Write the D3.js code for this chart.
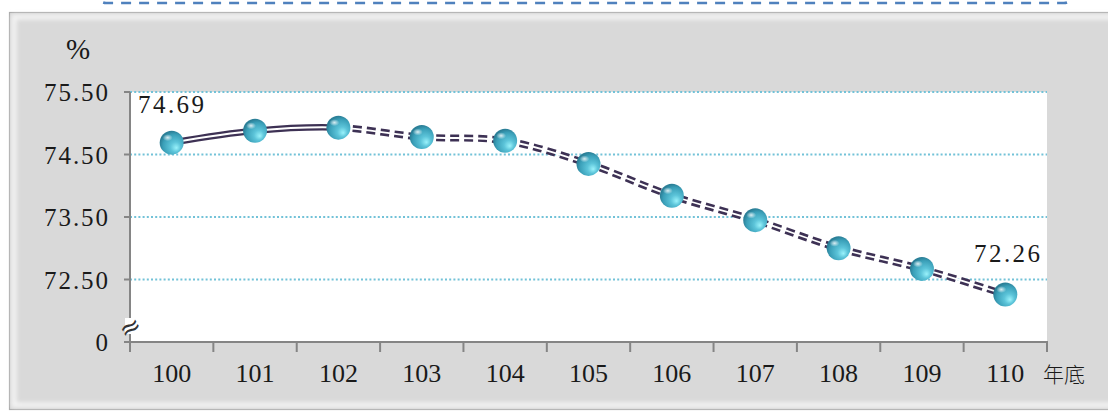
<!DOCTYPE html>
<html><head><meta charset="utf-8">
<script src="https://cdn.jsdelivr.net/npm/d3@7"></script>
<style>
html,body{margin:0;padding:0;background:#fff;overflow:hidden}
</style></head>
<body>
<script>
const years = ["100","101","102","103","104","105","106","107","108","109","110"];
const values = [74.69, 74.88, 74.93, 74.78, 74.72, 74.35, 73.84, 73.45, 73.00, 72.67, 72.26];
const yTicks = [72.5, 73.5, 74.5, 75.5];
const yTickLabels = ["72.50", "73.50", "74.50", "75.50"];
const yBaseLabel = "0";
const unitLabel = "%";
const xUnitLabel = "年底";
const solidUntil = "102";
const labelled = [{year:"100", text:"74.69"}, {year:"110", text:"72.26"}];

const SERIF = "'Liberation Serif', 'Times New Roman', Tinos, 'DejaVu Serif', serif";
const W = 1108, H = 412;
const svg = d3.select("body").append("svg").attr("width", W).attr("height", H);
const defs = svg.append("defs");

// top dashed box (partially visible)
svg.append("rect").attr("x", 97).attr("y", -40).attr("width", 976).attr("height", 43)
  .attr("rx", 9).attr("fill", "#fff").attr("stroke", "#4f81bd").attr("stroke-width", 2.5)
  .attr("stroke-dasharray", "10,8");

// gray panel with bevel
const blur = defs.append("filter").attr("id", "blur").attr("x", "-5%").attr("y", "-5%").attr("width", "110%").attr("height", "110%");
blur.append("feGaussianBlur").attr("stdDeviation", 2.2);
svg.append("rect").attr("x", 9.5).attr("y", 12.5).attr("width", 1110).attr("height", 397)
  .attr("fill", "#d9d9d9").attr("stroke", "#a8a8a8").attr("stroke-width", 1.2);
svg.append("rect").attr("x", 14).attr("y", 17).attr("width", 1110).attr("height", 388)
  .attr("fill", "none").attr("stroke", "#f4f4f4").attr("stroke-width", 5).attr("filter", "url(#blur)");

const m = {left:130, right:1047, top:92, bottom:342};
const x = d3.scaleBand().domain(years).range([m.left, m.right]).padding(0);
const y = d3.scaleLinear().domain([71.5, 75.5]).range([m.bottom, m.top]);

// plot area
svg.append("rect").attr("x", m.left).attr("y", m.top).attr("width", m.right - m.left).attr("height", m.bottom - m.top).attr("fill", "#fff");

// gridlines
svg.append("g").selectAll("line").data(yTicks).join("line")
  .attr("x1", m.left).attr("x2", m.right).attr("y1", d => y(d)).attr("y2", d => y(d))
  .attr("stroke", "#72c2d8").attr("stroke-width", 2).attr("stroke-dasharray", "2,2.2");

function txt(sel) { return sel.style("font-family", SERIF).style("fill", "#1a1a1a"); }

// y axis
const yAxis = svg.append("g");
yAxis.append("line").attr("x1", m.left).attr("x2", m.left).attr("y1", m.top).attr("y2", m.bottom + 1)
  .attr("stroke", "#858585").attr("stroke-width", 2);
yAxis.selectAll("line.t").data(yTicks.concat([71.5])).join("line").attr("class", "t")
  .attr("x1", m.left - 6).attr("x2", m.left).attr("y1", d => y(d)).attr("y2", d => y(d))
  .attr("stroke", "#858585").attr("stroke-width", 2);
txt(yAxis.selectAll("text.l").data(yTicks).join("text").attr("class", "l")
  .attr("x", 108).attr("y", d => y(d) + 9).attr("text-anchor", "end")
  .attr("font-size", 25).attr("textLength", 64).attr("lengthAdjust", "spacing")
  .text((d, i) => yTickLabels[i]));
txt(yAxis.append("text").attr("x", 108).attr("y", y(71.5) + 9).attr("text-anchor", "end")
  .attr("font-size", 25).text(yBaseLabel));
txt(svg.append("text").attr("x", 78).attr("y", 59).attr("text-anchor", "middle").attr("font-size", 29).text(unitLabel));

// break symbol
svg.append("rect").attr("x", 125).attr("y", 318).attr("width", 10).attr("height", 16).attr("fill", "#fff");
svg.append("text").attr("x", 130).attr("y", 336).attr("text-anchor", "middle").attr("font-size", 26)
  .attr("transform", "rotate(-30,130,327)").style("font-family", "DejaVu Sans").style("fill", "#333").text("≈");

// x axis
const xAxis = svg.append("g");
xAxis.append("line").attr("x1", m.left - 1).attr("x2", m.right + 1).attr("y1", m.bottom).attr("y2", m.bottom)
  .attr("stroke", "#858585").attr("stroke-width", 2);
const bounds = years.map(d => x(d)).concat([m.right]);
xAxis.selectAll("line.t").data(bounds).join("line").attr("class", "t")
  .attr("x1", d => d).attr("x2", d => d).attr("y1", m.bottom).attr("y2", m.bottom + 10)
  .attr("stroke", "#858585").attr("stroke-width", 2);
txt(xAxis.selectAll("text.l").data(years).join("text").attr("class", "l")
  .attr("x", d => x(d) + x.bandwidth() / 2).attr("y", 382).attr("text-anchor", "middle")
  .attr("font-size", 26).text(d => d));
svg.append("text").attr("x", 1043).attr("y", 382).attr("font-size", 21)
  .style("font-family", "'Noto Sans CJK TC','Noto Sans CJK SC',serif").style("font-weight", 300).style("fill", "#1a1a1a").text(xUnitLabel);

// line
const pts = years.map((d, i) => [x(d) + x.bandwidth() / 2, y(values[i])]);
const line = d3.line().curve(d3.curveCatmullRom.alpha(0.5));
const splitX = x(solidUntil) + x.bandwidth() / 2;
defs.append("clipPath").attr("id", "cs").append("rect").attr("x", 0).attr("y", 0).attr("width", splitX).attr("height", H);
defs.append("clipPath").attr("id", "cd").append("rect").attr("x", splitX).attr("y", 0).attr("width", W).attr("height", H);
const lg = svg.append("g");
const solid = lg.append("g").attr("clip-path", "url(#cs)");
solid.append("path").attr("d", line(pts)).attr("fill", "none").attr("stroke", "#3d3154").attr("stroke-width", 6.5);
solid.append("path").attr("d", line(pts)).attr("fill", "none").attr("stroke", "#fff").attr("stroke-width", 2);
const dashed = lg.append("g").attr("clip-path", "url(#cd)");
dashed.append("path").attr("d", line(pts)).attr("fill", "none").attr("stroke", "#3d3154").attr("stroke-width", 7).attr("stroke-dasharray", "9,5");
dashed.append("path").attr("d", line(pts)).attr("fill", "none").attr("stroke", "#fff").attr("stroke-width", 1.8);

// markers
const rg = defs.append("radialGradient").attr("id", "ball").attr("cx", "60%").attr("cy", "62%").attr("r", "60%").attr("fx", "70%").attr("fy", "72%");
rg.append("stop").attr("offset", "0%").attr("stop-color", "#9af2fb");
rg.append("stop").attr("offset", "35%").attr("stop-color", "#5cc4d9");
rg.append("stop").attr("offset", "80%").attr("stop-color", "#3a9fb8");
rg.append("stop").attr("offset", "100%").attr("stop-color", "#2b7f97");
const hg = defs.append("radialGradient").attr("id", "hi");
hg.append("stop").attr("offset", "0%").attr("stop-color", "#fff").attr("stop-opacity", 0.8);
hg.append("stop").attr("offset", "100%").attr("stop-color", "#fff").attr("stop-opacity", 0);
const mk = svg.append("g").selectAll("g").data(pts).join("g");
mk.append("circle").attr("cx", d => d[0]).attr("cy", d => d[1]).attr("r", 12).attr("fill", "url(#ball)");
mk.append("ellipse").attr("cx", d => d[0] - 4).attr("cy", d => d[1] - 5).attr("rx", 5).attr("ry", 3.5).attr("fill", "url(#hi)");

// data labels
txt(svg.append("g").selectAll("text").data(labelled).join("text")
  .attr("x", d => d.year === "100" ? 138 : 1040)
  .attr("y", d => y(values[years.indexOf(d.year)]) + (d.year === "100" ? -30 : -33))
  .attr("text-anchor", d => d.year === "100" ? "start" : "end")
  .attr("font-size", 25).attr("textLength", 66).attr("lengthAdjust", "spacing").text(d => d.text));
</script>
</body></html>
